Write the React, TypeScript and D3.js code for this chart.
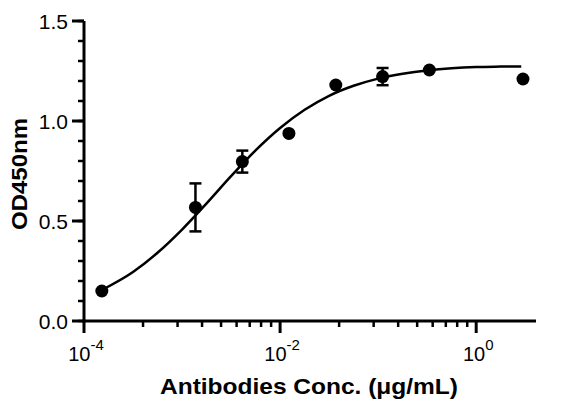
import { useRef, useEffect } from "react";
import * as d3 from "d3";

// Measured points (3-fold serial dilution)
const concentrations = [0.000152, 0.00137, 0.00412, 0.0123, 0.037, 0.111, 0.333, 3.0];
const odValues = [0.15, 0.568, 0.797, 0.938, 1.18, 1.222, 1.255, 1.21];
const odErrors = [0, 0.12, 0.055, 0, 0, 0.043, 0, 0];

// Fitted curve
const fitX = [
  1.52e-4, 3.16e-4, 5.62e-4, 1e-3, 1.78e-3, 3.16e-3, 5.62e-3, 1e-2, 1.78e-2,
  3.16e-2, 5.62e-2, 0.1, 0.178, 0.316, 0.562, 1, 1.78, 2.88,
];
const fitY = [
  0.155, 0.245, 0.341, 0.457, 0.588, 0.724, 0.853, 0.965, 1.056, 1.126, 1.176,
  1.212, 1.236, 1.253, 1.264, 1.27, 1.272, 1.273,
];

const yTicks = [0, 0.5, 1.0, 1.5];
const xTickExps = [-4, -2, 0];

const FONT = "'Liberation Sans', Arial, sans-serif";

export default function App() {
  const svgRef = useRef<SVGSVGElement>(null);

  useEffect(() => {
    if (!svgRef.current) return;
    const width = 562;
    const height = 410;
    const margin = { top: 21, right: 26, bottom: 89, left: 84 };
    const innerW = width - margin.left - margin.right;
    const innerH = height - margin.top - margin.bottom;

    const svg = d3.select(svgRef.current);
    svg.selectAll("*").remove();
    svg.attr("width", width).attr("height", height);

    const g = svg
      .append("g")
      .attr("transform", `translate(${margin.left},${margin.top})`);

    const x = d3
      .scaleLog()
      .domain([1e-4, Math.pow(10, 0.61)])
      .range([0, innerW]);
    const y = d3.scaleLinear().domain([0, 1.5]).range([innerH, 0]);

    // major ticks every 100-fold, minor ticks spaced like 2..9 across each span
    const minorX: number[] = [];
    [-4, -2].forEach((e) => {
      for (let m = 2; m <= 9; m++) minorX.push(Math.pow(10, e) * m * m);
    });

    // X axis
    const xAxis = g.append("g").attr("transform", `translate(0,${innerH})`);
    xAxis
      .append("line")
      .attr("x1", -1.5)
      .attr("x2", innerW)
      .attr("stroke", "#000")
      .attr("stroke-width", 3);
    xAxis
      .selectAll(".minor")
      .data(minorX)
      .join("line")
      .attr("x1", (d) => x(d))
      .attr("x2", (d) => x(d))
      .attr("y1", 0)
      .attr("y2", 6)
      .attr("stroke", "#000")
      .attr("stroke-width", 2.5);
    xAxis
      .selectAll(".major")
      .data(xTickExps)
      .join("line")
      .attr("x1", (d) => x(Math.pow(10, d)))
      .attr("x2", (d) => x(Math.pow(10, d)))
      .attr("y1", 0)
      .attr("y2", 12)
      .attr("stroke", "#000")
      .attr("stroke-width", 3);
    const xLabels = xAxis
      .selectAll(".lbl")
      .data(xTickExps)
      .join("text")
      .attr("x", (d) => x(Math.pow(10, d)) + 2)
      .attr("y", 40)
      .attr("text-anchor", "middle")
      .attr("font-family", FONT)
      .attr("font-size", 20)
      .attr("fill", "#000");
    xLabels.append("tspan").text("10");
    xLabels
      .append("tspan")
      .attr("dy", -11)
      .attr("font-size", 15)
      .text((d) => (d < 0 ? `-${-d}` : `${d}`));

    // Y axis
    const yAxis = g.append("g");
    yAxis
      .append("line")
      .attr("y1", 0)
      .attr("y2", innerH + 1.5)
      .attr("stroke", "#000")
      .attr("stroke-width", 3);
    yAxis
      .selectAll(".minor")
      .data(d3.range(0, 16).map((i) => i / 10))
      .join("line")
      .attr("x1", 0)
      .attr("x2", -6)
      .attr("y1", (d) => y(d))
      .attr("y2", (d) => y(d))
      .attr("stroke", "#000")
      .attr("stroke-width", 2.5);
    yAxis
      .selectAll(".major")
      .data(yTicks)
      .join("line")
      .attr("x1", 0)
      .attr("x2", -12)
      .attr("y1", (d) => y(d))
      .attr("y2", (d) => y(d))
      .attr("stroke", "#000")
      .attr("stroke-width", 3);
    yAxis
      .selectAll(".lbl")
      .data(yTicks)
      .join("text")
      .attr("x", -16)
      .attr("y", (d) => y(d))
      .attr("dy", "0.36em")
      .attr("text-anchor", "end")
      .attr("font-family", FONT)
      .attr("font-size", 21)
      .attr("fill", "#000")
      .text((d) => d3.format(".1f")(d));

    // Fit curve
    const line = d3
      .line<number>()
      .x((_, i) => x(fitX[i]))
      .y((d) => y(d))
      .curve(d3.curveMonotoneX);
    g.append("path")
      .datum(fitY)
      .attr("d", line)
      .attr("fill", "none")
      .attr("stroke", "#000")
      .attr("stroke-width", 2.5);

    // Error bars
    const eb = g
      .append("g")
      .selectAll("g")
      .data(
        concentrations
          .map((c, i) => ({ c, v: odValues[i], e: odErrors[i] }))
          .filter((d) => d.e > 0),
      )
      .join("g");
    eb.append("line")
      .attr("x1", (d) => x(d.c))
      .attr("x2", (d) => x(d.c))
      .attr("y1", (d) => y(d.v - d.e))
      .attr("y2", (d) => y(d.v + d.e))
      .attr("stroke", "#000")
      .attr("stroke-width", 2.5);
    [1, -1].forEach((s) => {
      eb.append("line")
        .attr("x1", (d) => x(d.c) - 6)
        .attr("x2", (d) => x(d.c) + 6)
        .attr("y1", (d) => y(d.v + s * d.e))
        .attr("y2", (d) => y(d.v + s * d.e))
        .attr("stroke", "#000")
        .attr("stroke-width", 2.5);
    });

    // Points
    g.selectAll(".pt")
      .data(concentrations)
      .join("circle")
      .attr("cx", (d) => x(d))
      .attr("cy", (_, i) => y(odValues[i]))
      .attr("r", 6.5)
      .attr("fill", "#000");

    // Axis titles
    svg
      .append("text")
      .attr("x", 309)
      .attr("y", 394)
      .attr("text-anchor", "middle")
      .attr("font-family", FONT)
      .attr("font-weight", "bold")
      .attr("font-size", 22)
      .attr("textLength", 298)
      .attr("lengthAdjust", "spacingAndGlyphs")
      .attr("fill", "#000")
      .text("Antibodies Conc. (μg/mL)");
    svg
      .append("text")
      .attr("transform", `translate(27,174) rotate(-90)`)
      .attr("text-anchor", "middle")
      .attr("font-family", FONT)
      .attr("font-weight", "bold")
      .attr("font-size", 22)
      .attr("textLength", 112)
      .attr("lengthAdjust", "spacingAndGlyphs")
      .attr("fill", "#000")
      .text("OD450nm");
  }, []);

  return (
    <div style={{ position: "absolute", left: 0, top: 0, background: "#fff" }}>
      <svg ref={svgRef} style={{ display: "block" }} />
    </div>
  );
}
